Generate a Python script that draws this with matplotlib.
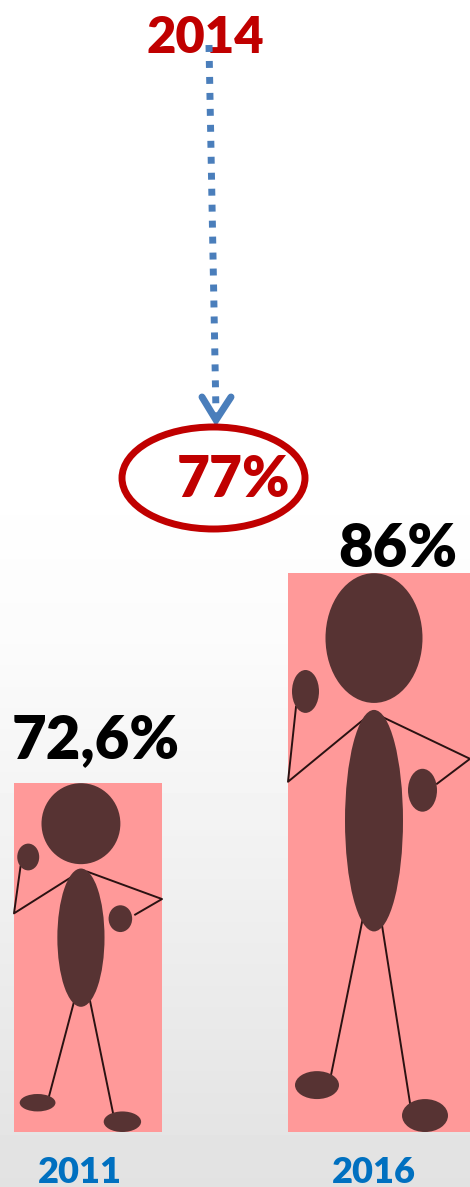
import numpy as np
import matplotlib.pyplot as plt
from matplotlib.patches import Ellipse

plt.rcParams['font.family'] = ['Lato', 'DejaVu Sans']

# Data
years = ['2011', '2016']
values = [72.6, 86]
value_labels = ['72,6%', '86%']
mid_year = '2014'
mid_label = '77%'

# Stick figure, measured on a 182 x 560 box
box_w, box_h = 182, 560
blobs = [(86, 65, 97, 130), (86, 248, 58, 222), (17.5, 118.5, 27, 43),
         (134.5, 217.5, 29, 43), (29, 513, 44, 28), (137, 543.5, 46, 33)]
blob_moves = [1, 1, 0, 1, 0, 1]   # the small figure leans left, except hand and foot
sticks = [[(8, 134), (0, 209), (80, 143)], [(90, 142), (182, 186), (149, 211)],
          [(76, 340), (43, 503)], [(92, 340), (122, 531)]]

W, H = 470, 1187
base = 50.34           # value sitting on the bars' bottom edge
px_per_pct = 15.67
bar_x = [14, 288]
bar_w = [148, 182]
blob_dx = [-3, 0]
label_x = [95.5, 398]
label_gap = [25, 6]
year_x = [80, 374]

fig = plt.figure(figsize=(W/100, H/100), dpi=100)

# Pixel axes for background and the 2014 callout
bg = fig.add_axes([0, 0, 1, 1])
bg.set_xlim(0, W)
bg.set_ylim(H, 0)
bg.axis('off')
grad = np.interp(np.arange(H), [0, 470, 640, 1187], [1, 1, 0.985, 0.885])
bg.imshow(grad[:, None], cmap='gray', vmin=0, vmax=1, extent=(0, W, H, 0), aspect='auto', zorder=0)

bg.text(205, 53, mid_year, color='#c00000', fontsize=36.5, fontweight='heavy',
        ha='center', va='baseline', zorder=2)
bg.plot([209, 216], [45, 414], color='#4a7ebb', lw=5, dashes=(1, 1.3),
        dash_capstyle='butt', zorder=3)
bg.plot([202, 216, 231], [397, 420, 397], color='#4a7ebb', lw=5,
        solid_capstyle='round', solid_joinstyle='miter', zorder=3)
bg.add_patch(Ellipse((213.5, 478), 183, 102, fill=False, ec='#c00000', lw=5, zorder=3))
bg.text(234, 497, mid_label, color='#c00000', fontsize=41, fontweight='heavy',
        ha='center', va='baseline', zorder=4)

# Value axes for the bars, sharing the same canvas
ax = fig.add_axes([0, 0, 1, 1])
ax.patch.set_alpha(0)
ax.set_xlim(0, W)
ax.set_ylim(base - (H - 1132)/px_per_pct, base + 1132/px_per_pct)
ax.axis('off')

for i, (val, label, year) in enumerate(zip(values, value_labels, years)):
    x0, w = bar_x[i], bar_w[i]
    ax.bar(x0, val - base, bottom=base, width=w, align='edge', color='#ff9999', zorder=1)
    sx, sy = w/box_w, (val - base)/box_h
    for (cx, cy, ew, eh), moves in zip(blobs, blob_moves):
        ax.add_patch(Ellipse((x0 + cx*sx + moves*blob_dx[i], val - cy*sy), ew*sx, eh*sy,
                             fc='#573333', ec='none', zorder=3))
    for s in sticks:
        xs = [x0 + p[0]*sx for p in s]
        ys = [val - p[1]*sy for p in s]
        ax.plot(xs, ys, color='#2a1212', lw=1.4, zorder=2)
    ax.text(label_x[i], val + label_gap[i]/px_per_pct, label, color='black', fontsize=43,
            fontweight='heavy', ha='center', va='baseline', zorder=4)
    ax.text(year_x[i], base - 51/px_per_pct, year, color='#0070c0', fontsize=26,
            fontweight='heavy', ha='center', va='baseline', zorder=4)

fig.savefig('out.png', dpi=100)
